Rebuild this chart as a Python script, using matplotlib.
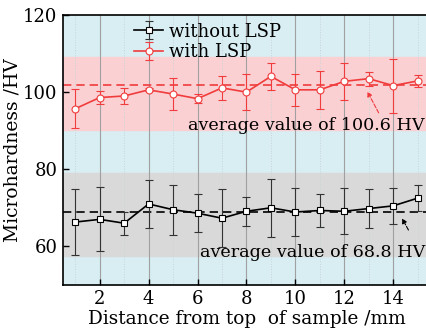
import numpy as np
import matplotlib.pyplot as plt

plt.rcParams['font.family'] = 'DejaVu Serif'
plt.rcParams['mathtext.fontset'] = 'dejavuserif'

# Data
x = np.arange(1, 16)
without_lsp = [66.3, 67.0, 66.0, 71.0, 69.5, 68.6, 67.3, 69.1, 70.0, 68.9, 69.3, 69.1, 69.8, 70.5, 72.5]
without_err = [8.5, 8.3, 3.0, 6.3, 6.5, 5.0, 7.5, 3.8, 7.5, 6.3, 4.3, 6.0, 5.0, 4.7, 3.3]
with_lsp = [95.7, 98.6, 99.0, 100.6, 99.5, 98.3, 101.1, 100.0, 104.1, 100.6, 100.6, 102.8, 103.5, 101.7, 102.9]
with_err = [5.1, 1.7, 2.2, 0.4, 4.1, 1.2, 3.2, 4.6, 3.5, 4.2, 5.0, 4.8, 1.8, 7.0, 1.5]
avg_without = 68.8
avg_with = 101.8
band_without = (57.5, 79.0)
band_with = (90.3, 109.2)

fig = plt.figure(figsize=(4.26, 3.34), dpi=100)
ax = fig.add_axes([0.148, 0.147, 0.861, 0.808])
ax.set_facecolor('#d8eef3')

# background bands
ax.axhspan(band_with[0], band_with[1], color='#fbd0d3', zorder=0)
ax.axhspan(band_without[0], band_without[1], color='#d9d9d9', zorder=0)

# vertical grid lines
for xi in x:
    if xi % 2 == 0:
        ax.axvline(xi, color='#a0a0a0', lw=0.8, zorder=1)
    else:
        ax.axvline(xi, color='#c8d4d6', lw=0.7, ls=':', zorder=1)

# average lines
ax.axhline(avg_without, color='black', lw=1.2, ls=(0, (5, 3)), zorder=2)
ax.axhline(avg_with, color='#f03c3c', lw=1.2, ls=(0, (5, 3)), zorder=2)

ax.errorbar(x, without_lsp, yerr=without_err, color='black', ecolor='#333333',
            elinewidth=0.8, capsize=3, capthick=0.8, lw=1.2, marker='s', ms=5,
            mfc='white', mec='black', mew=0.8, label='without LSP', zorder=4)
ax.errorbar(x, with_lsp, yerr=with_err, color='#f03c3c', ecolor='#f03c3c',
            elinewidth=0.8, capsize=3, capthick=0.8, lw=1.2, marker='o', ms=5,
            mfc='white', mec='#f03c3c', mew=0.8, label='with LSP', zorder=4)

ax.text(15.3, 91.3, 'average value of 100.6 HV', fontsize=12.6, ha='right', va='center', zorder=5)
ax.text(15.3, 58.4, 'average value of 68.8 HV', fontsize=12.6, ha='right', va='center', zorder=5)
ax.annotate('', xy=(12.89, 100.8), xytext=(13.46, 94.0),
            arrowprops=dict(arrowstyle='-|>', color='#f03c3c', lw=0.8, ls='--',
                            mutation_scale=7), zorder=5)
ax.annotate('', xy=(14.31, 67.9), xytext=(14.68, 63.6),
            arrowprops=dict(arrowstyle='-|>', color='black', lw=0.8, ls='--',
                            mutation_scale=7), zorder=5)

ax.set_xlim(0.5, 15.5)
ax.set_ylim(50, 120)
ax.set_xticks([2, 4, 6, 8, 10, 12, 14])
ax.set_yticks([60, 80, 100, 120])
ax.tick_params(direction='in', labelsize=13, length=4, width=1, pad=4)
ax.set_xlabel('Distance from top  of sample /mm', fontsize=13.3, labelpad=1)
ax.set_ylabel('Microhardness /HV', fontsize=13.5, labelpad=1)
for s in ax.spines.values():
    s.set_linewidth(1.2)

ax.legend(loc='upper left', bbox_to_anchor=(0.165, 1.012), frameon=False, fontsize=13,
          handlelength=1.6, handletextpad=0.3, labelspacing=0.15, borderaxespad=0.2)

plt.savefig('out.png', dpi=100)
